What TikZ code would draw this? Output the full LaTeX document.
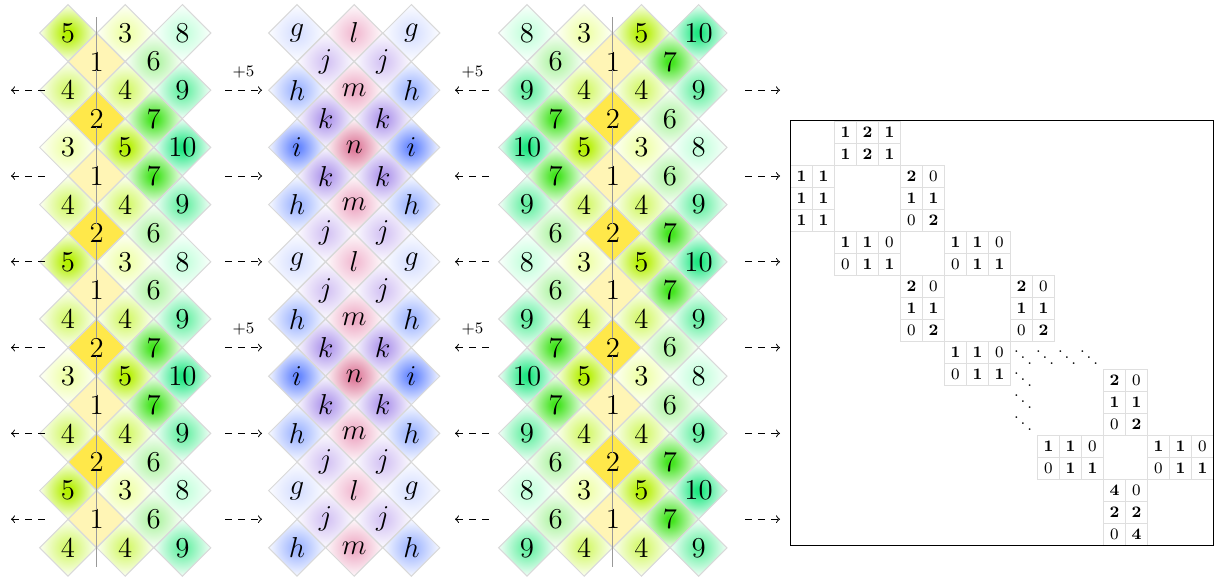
\documentclass[tikz,border=0pt]{standalone}
\usepackage{tikz}
\usetikzlibrary{shapes.geometric, matrix}
\definecolor{NumOne}{HTML}{FFF5B5}
\definecolor{NumTwo}{HTML}{FFE84A}
\definecolor{NumThree}{HTML}{EEFFA8}
\definecolor{NumFour}{HTML}{D4F86C}
\definecolor{NumFive}{HTML}{B4F000}
\definecolor{NumSix}{HTML}{B0F4A4}
\definecolor{NumSeven}{HTML}{44E420}
\definecolor{NumEight}{HTML}{C4FFDC}
\definecolor{NumNine}{HTML}{68F0A4}
\definecolor{NumTen}{HTML}{22E884}
\definecolor{LetG}{HTML}{D8E0FF}
\definecolor{LetH}{HTML}{A0B6FF}
\definecolor{LetI}{HTML}{6888FF}
\definecolor{LetJ}{HTML}{D6C6F4}
\definecolor{LetK}{HTML}{B098EC}
\definecolor{LetL}{HTML}{F2BED4}
\definecolor{LetM}{HTML}{EEACC6}
\definecolor{LetN}{HTML}{DE7C9C}
\makeatletter
\pgfdeclareradialshading[tikz@radial@inner]{soft}{\pgfpoint{0bp}{0bp}}{%
  color(0bp)=(tikz@radial@inner);color(3bp)=(tikz@radial@inner);color(27bp)=(white);color(50bp)=(white)}
\makeatother
\newcommand{\zro}{\mdseries 0}

\begin{document}
\begin{tikzpicture}[x=0.5pt, y=-0.5pt,
  cell/.style={diamond, draw=gray!30, line width=0.5pt, minimum width=28.6pt, minimum height=28.6pt, inner sep=0pt, font=\Large},
  glow/.style={inner color=#1, shading=soft},
  n1/.style={fill=NumOne}, n2/.style={fill=NumTwo}, n3/.style={glow=NumThree}, n4/.style={glow=NumFour},
  n5/.style={glow=NumFive}, n6/.style={glow=NumSix}, n7/.style={glow=NumSeven}, n8/.style={glow=NumEight},
  n9/.style={glow=NumNine}, n10/.style={glow=NumTen},
  tg/.style={glow=LetG}, th/.style={glow=LetH}, ti/.style={glow=LetI}, tj/.style={glow=LetJ},
  tk/.style={glow=LetK}, tl/.style={glow=LetL}, tm/.style={glow=LetM}, tn/.style={glow=LetN},
  midline/.style={gray!80, line width=0.5pt, dash pattern=on 19.6pt off 9pt, dash phase=2.2pt},
  darr/.style={dash pattern=on 3.5pt off 3pt, line width=0.5pt},
  lbl/.style={above=2.5pt, font=\footnotesize},
  blk/.style={matrix of nodes, inner sep=0pt, outer sep=0pt, anchor=north west, column sep=-0.4pt, row sep=-0.4pt,
    nodes={draw=gray!25, line width=0.4pt, minimum size=11pt, inner sep=0pt, anchor=center, font=\footnotesize\bfseries}},
  dts/.style={inner sep=0pt, font=\footnotesize}
]
\useasboundingbox (0,0) rectangle (1215,583);

\foreach \row [count=\nr from 0] in {{5,3,8},{1,6},{4,4,9},{2,7},{3,5,10},{1,7},{4,4,9},{2,6},
    {5,3,8},{1,6},{4,4,9},{2,7},{3,5,10},{1,7},{4,4,9},{2,6},{5,3,8},{1,6},{4,4,9}}
  \foreach \val [count=\nc from 0] in \row
    \node[cell, n\val] (a-\nr-\nc) at ({68+28.6*(2*\nc+mod(\nr,2))}, {33+28.6*\nr}) {\val};

\foreach \row [count=\nr from 0] in {{g,l,g},{j,j},{h,m,h},{k,k},{i,n,i},{k,k},{h,m,h},{j,j},
    {g,l,g},{j,j},{h,m,h},{k,k},{i,n,i},{k,k},{h,m,h},{j,j},{g,l,g},{j,j},{h,m,h}}
  \foreach \val [count=\nc from 0] in \row
    \node[cell, t\val] (b-\nr-\nc) at ({297+28.6*(2*\nc+mod(\nr,2))}, {33+28.6*\nr}) {$\val$};

\foreach \row [count=\nr from 0] in {{8,3,5,10},{6,1,7},{9,4,4,9},{7,2,6},{10,5,3,8},{7,1,6},{9,4,4,9},{6,2,7},
    {8,3,5,10},{6,1,7},{9,4,4,9},{7,2,6},{10,5,3,8},{7,1,6},{9,4,4,9},{6,2,7},{8,3,5,10},{6,1,7},{9,4,4,9}}
  \foreach \val [count=\nc from 0] in \row
    \node[cell, n\val] (c-\nr-\nc) at ({527+28.6*(2*\nc+mod(\nr,2))}, {33+28.6*\nr}) {\val};

\draw[midline] ([yshift=7.5pt]a-1-0.north) -- ([yshift=-9.6pt]a-17-0.south);
\draw[midline] ([yshift=7.5pt]c-1-1.north) -- ([yshift=-9.6pt]c-17-1.south);

\foreach \nr in {2,5,8,11,14,17}{
  \path (11,{33+28.6*\nr}) coordinate (p\nr-1) (45,{33+28.6*\nr}) coordinate (p\nr-2)
    (225,{33+28.6*\nr}) coordinate (p\nr-3) (262,{33+28.6*\nr}) coordinate (p\nr-4)
    (455,{33+28.6*\nr}) coordinate (p\nr-5) (490,{33+28.6*\nr}) coordinate (p\nr-6)
    (745,{33+28.6*\nr}) coordinate (p\nr-7) (780,{33+28.6*\nr}) coordinate (p\nr-8);
  \draw[darr, <-] (p\nr-1) -- (p\nr-2);
  \draw[darr, ->] (p\nr-3) -- (p\nr-4);
  \draw[darr, <-] (p\nr-5) -- (p\nr-6);
  \draw[darr, ->] (p\nr-7) -- (p\nr-8);
}
\foreach \nr in {2,11}{
  \path (p\nr-3) -- node[lbl] (pa\nr) {$+5$} (p\nr-4);
  \path (p\nr-5) -- node[lbl] (pc\nr) {$+5$} (p\nr-6);
}

\matrix (m1) [blk] at (834,121) {1 & 2 & 1\\ 1 & 2 & 1\\};
\matrix (m2) [blk] at (790,165) {1 & 1\\ 1 & 1\\ 1 & 1\\};
\matrix (m3) [blk] at (900,165) {2 & \zro\\ 1 & 1\\ \zro & 2\\};
\matrix (m4) [blk] at (834,231) {1 & 1 & \zro\\ \zro & 1 & 1\\};
\matrix (m5) [blk] at (944,231) {1 & 1 & \zro\\ \zro & 1 & 1\\};
\matrix (m6) [blk] at (900,275) {2 & \zro\\ 1 & 1\\ \zro & 2\\};
\matrix (m7) [blk] at (1010,275) {2 & \zro\\ 1 & 1\\ \zro & 2\\};
\matrix (m8) [blk] at (944,341) {1 & 1 & \zro\\ \zro & 1 & 1\\};
\matrix (m9) [blk] at (1103,369) {2 & \zro\\ 1 & 1\\ \zro & 2\\};
\matrix (m10) [blk] at (1037,435) {1 & 1 & \zro\\ \zro & 1 & 1\\};
\matrix (m11) [blk] at (1147,435) {1 & 1 & \zro\\ \zro & 1 & 1\\};
\matrix (m12) [blk] at (1103,479) {4 & \zro\\ 2 & 2\\ \zro & 4\\};
\foreach \x/\y [count=\i] in {1023/352,1045/352,1067/352,1089/352,1023/374,1023/396,1023/418}
  \node[dts] (dd\i) at (\x,\y) {$\ddots$};
\draw[line width=0.5pt] (790,121) rectangle (1213,545);
\end{tikzpicture}
\end{document}
